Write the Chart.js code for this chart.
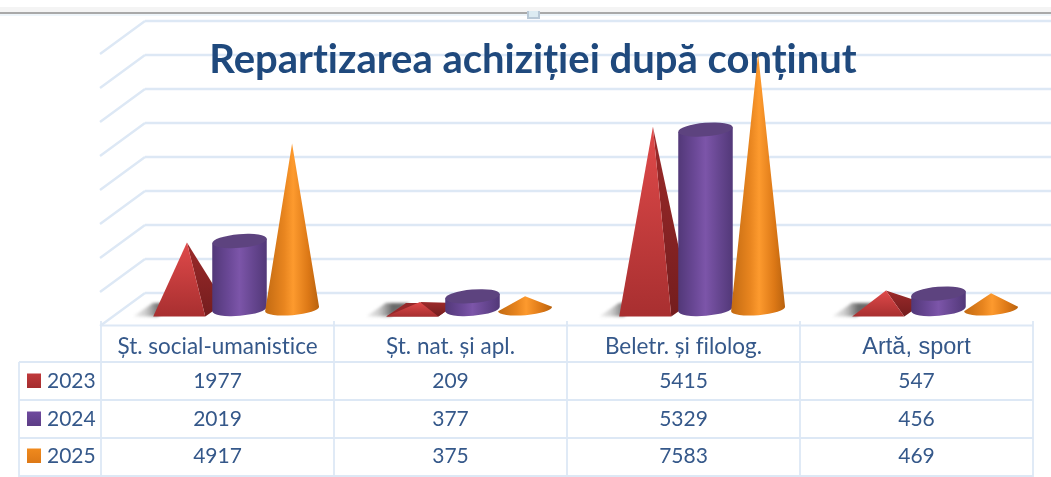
<!DOCTYPE html>
<html><head><meta charset="utf-8">
<style>html,body{margin:0;padding:0;background:#fff;overflow:hidden}canvas{display:block;filter:blur(0.6px)}#w{width:1051px;height:477px;position:relative}</style>
<script src="https://cdn.jsdelivr.net/npm/chart.js@4"></script></head>
<body><div id="w"><canvas id="c" width="1051" height="477"></canvas></div>
<script>
const titleText = "Repartizarea achiziției după conținut";
const categories = ["Șt. social-umanistice","Șt. nat. și apl.","Beletr. și filolog.","Artă, sport"];
const seriesNames = ["2023","2024","2025"];
const values2023 = [1977,209,5415,547];
const values2024 = [2019,377,5329,456];
const values2025 = [4917,375,7583,469];
const seriesColors = ["#c0393b","#6f4a9e","#f08a1d"];
const seriesValues = [values2023,values2024,values2025];
const shapes = ["pyramid","cylinder","cone"];

const LINE="#dde8f5", TXT="#35588a", SANS="Lato, 'Noto Sans', sans-serif";
const WALL_L=145, WALL_R=1051, FRONT_L=101, FRONT_R=1033;
const TILT=-0.085;

function drawPyramid(ctx,cx,top,base,w){
  const k=w/53, fl=cx-34*k, fr=cx+18.5*k, br=cx+38*k, bl=cx-14*k, by=base+7.5, ty=base-6;
  // floor shadow
  let g=ctx.createLinearGradient(fl-24,0,fl+6,0);
  g.addColorStop(0,"rgba(110,110,110,0)");g.addColorStop(.55,"rgba(110,110,110,.35)");g.addColorStop(1,"rgba(80,80,80,.85)");
  ctx.save();ctx.filter="blur(1.4px)";
  ctx.fillStyle=g;ctx.beginPath();ctx.moveTo(fl-20,by);ctx.lineTo(fl+4,by);ctx.lineTo(bl+4,ty);ctx.lineTo(bl-20,ty);ctx.closePath();ctx.fill();
  ctx.restore();
  const apexY=Math.min(top,ty-0.5);
  if(base-top<12){ctx.fillStyle="#96282a";ctx.beginPath();ctx.moveTo(fl,by);ctx.lineTo(fr,by);ctx.lineTo(br,ty);ctx.lineTo(bl,ty);ctx.closePath();ctx.fill();}
  // right face
  g=ctx.createLinearGradient(0,apexY,0,by);g.addColorStop(0,"#9c2a2a");g.addColorStop(1,"#741d1e");
  ctx.fillStyle=g;ctx.beginPath();ctx.moveTo(cx,apexY);ctx.lineTo(fr,by);ctx.lineTo(br,ty);ctx.closePath();ctx.fill();
  // front face
  g=ctx.createLinearGradient(0,apexY,0,by);g.addColorStop(0,"#e04a4a");g.addColorStop(1,"#a82f30");
  ctx.fillStyle=g;ctx.beginPath();ctx.moveTo(cx,apexY);ctx.lineTo(fl,by);ctx.lineTo(fr,by);ctx.closePath();ctx.fill();
}
function drawCylinder(ctx,cx,top,base,w){
  const rx=w/2*1.04, ry=6.8, s=Math.sin(TILT)*rx, c=Math.cos(TILT)*rx;
  let g=ctx.createLinearGradient(cx-rx,0,cx+rx,0);
  g.addColorStop(0,"#523878");g.addColorStop(.3,"#6a4896");g.addColorStop(.5,"#7c55a9");g.addColorStop(.75,"#664690");g.addColorStop(1,"#523878");
  ctx.fillStyle=g;ctx.beginPath();
  ctx.moveTo(cx-c,top-s);ctx.lineTo(cx+c,top+s);ctx.lineTo(cx+c,base+s);
  ctx.ellipse(cx,base,rx,ry,TILT,0,Math.PI);ctx.closePath();ctx.fill();
  ctx.fillStyle="#5d437f";ctx.beginPath();ctx.ellipse(cx,top,rx,ry,TILT,0,Math.PI*2);ctx.fill();
}
function drawCone(ctx,cx,top,base,w){
  const rx=w/2*1.03, ry=6.2, s=Math.sin(TILT)*rx, c=Math.cos(TILT)*rx;
  const g=ctx.createLinearGradient(cx-rx,0,cx+rx,0);
  g.addColorStop(0,"#c26a12");g.addColorStop(.35,"#e8851f");g.addColorStop(.52,"#fd9a2e");g.addColorStop(.8,"#dc7816");g.addColorStop(1,"#b8620e");
  ctx.fillStyle=g;ctx.beginPath();
  ctx.moveTo(cx,top);ctx.lineTo(cx+c,base+s);ctx.ellipse(cx,base,rx,ry,TILT,0,Math.PI);ctx.closePath();ctx.fill();
}
const painters={pyramid:drawPyramid,cylinder:drawCylinder,cone:drawCone};

function line(ctx,x1,y1,x2,y2){ctx.beginPath();ctx.moveTo(x1,y1);ctx.lineTo(x2,y2);ctx.stroke();}

const scene={
  id:"scene",
  beforeDraw(chart){chart.ctx.textRendering="optimizeSpeed";},
  beforeDatasetsDraw(chart){
    const ctx=chart.ctx,y=chart.scales.y,x=chart.scales.x;
    ctx.save();
    // top ruler of the document screenshot
    ctx.fillStyle="#f4f4f4";ctx.fillRect(0,7,1051,5);
    ctx.fillStyle="#a9a9a9";ctx.fillRect(0,12,1051,2);
    ctx.fillStyle="#eef5fa";ctx.fillRect(0,14,1051,2);
    ctx.fillStyle="#b8c8d6";ctx.fillRect(527,11,13,8);ctx.fillStyle="#dcebf2";ctx.fillRect(529,11,9,6);
    ctx.fillStyle="#b0bcc8";ctx.fillRect(527,475,13,2);
    // wall and side grid
    ctx.strokeStyle=LINE;ctx.lineWidth=2.4;
    y.ticks.forEach(t=>{
      const py=y.getPixelForValue(t.value);
      line(ctx,WALL_L,py,WALL_R,py);
      line(ctx,WALL_L,py,FRONT_L-1,py+33);
    });
    // data table
    ctx.lineWidth=1.8;
    const cols=[...x.getTicks().map((t,i)=>x.getPixelForTick(i)-x.width/8),x.right];
    const rows=[362,400,438,476];
    line(ctx,FRONT_L,325.5,FRONT_R,325.5);
    rows.forEach(r=>line(ctx,19,r,FRONT_R,r));
    line(ctx,19,362,19,477);
    cols.forEach(c=>line(ctx,c,321,c,477));
    ctx.textBaseline="middle";ctx.fillStyle=TXT;ctx.font="21px "+SANS;
    const rowY=[381.5,419.5,456.5];
    seriesNames.forEach((n,r)=>{
      const sg=ctx.createLinearGradient(0,rowY[r]-8,0,rowY[r]+7);
      sg.addColorStop(0,seriesColors[r]);sg.addColorStop(1,["#a32c2e","#5c3d85","#dc7816"][r]);
      ctx.fillStyle=sg;ctx.fillRect(27,rowY[r]-8,14,14.5);
      ctx.fillStyle=TXT;ctx.textAlign="left";ctx.fillText(n,47,rowY[r]);
      ctx.textAlign="center";
      seriesValues[r].forEach((v,i)=>ctx.fillText(String(v),x.getPixelForTick(i),rowY[r]));
    });
    // title
    ctx.fillStyle="#1f497d";ctx.font="bold 40px "+SANS;ctx.textAlign="center";ctx.textBaseline="alphabetic";
    ctx.fillText(titleText,533,73);
    ctx.restore();
  },
  beforeDatasetDraw(){return false;},
  afterDatasetsDraw(chart){
    const ctx=chart.ctx,ys=chart.scales.y2,off=22;
    ctx.save();
    categories.forEach((_,i)=>{
      seriesValues.forEach((vals,d)=>{
        const el=chart.getDatasetMeta(d).data[i];
        painters[shapes[d]](ctx,el.x+off,ys.getPixelForValue(vals[i]),ys.getPixelForValue(0),el.width);
      });
    });
    ctx.restore();
  }
};

new Chart(document.getElementById("c"),{
  type:"bar",
  data:{labels:categories,datasets:seriesNames.map((n,i)=>({label:n,data:seriesValues[i],backgroundColor:seriesColors[i],yAxisID:"y2",categoryPercentage:.677,barPercentage:1}))},
  plugins:[scene],
  options:{
    responsive:false,animation:false,events:[],
    layout:{padding:{left:101,right:18,top:21,bottom:0}},
    plugins:{legend:{display:false},title:{display:false},tooltip:{enabled:false}},
    scales:{
      x:{type:"category",grid:{display:false,drawTicks:false},border:{display:false},
        afterFit(s){s.height=184;},
        ticks:{autoSkip:false,maxRotation:0,padding:40,color:TXT,
          font:c=>c.index===3?{family:"'Liberation Sans',Arial,sans-serif",size:23.5}:{family:SANS,size:22.5}}},
      y:{display:false,min:0,max:8000,ticks:{stepSize:1000},grid:{display:false}},
      y2:{display:false,min:475,max:8553,grid:{display:false}}
    }
  }
});
</script></body></html>
